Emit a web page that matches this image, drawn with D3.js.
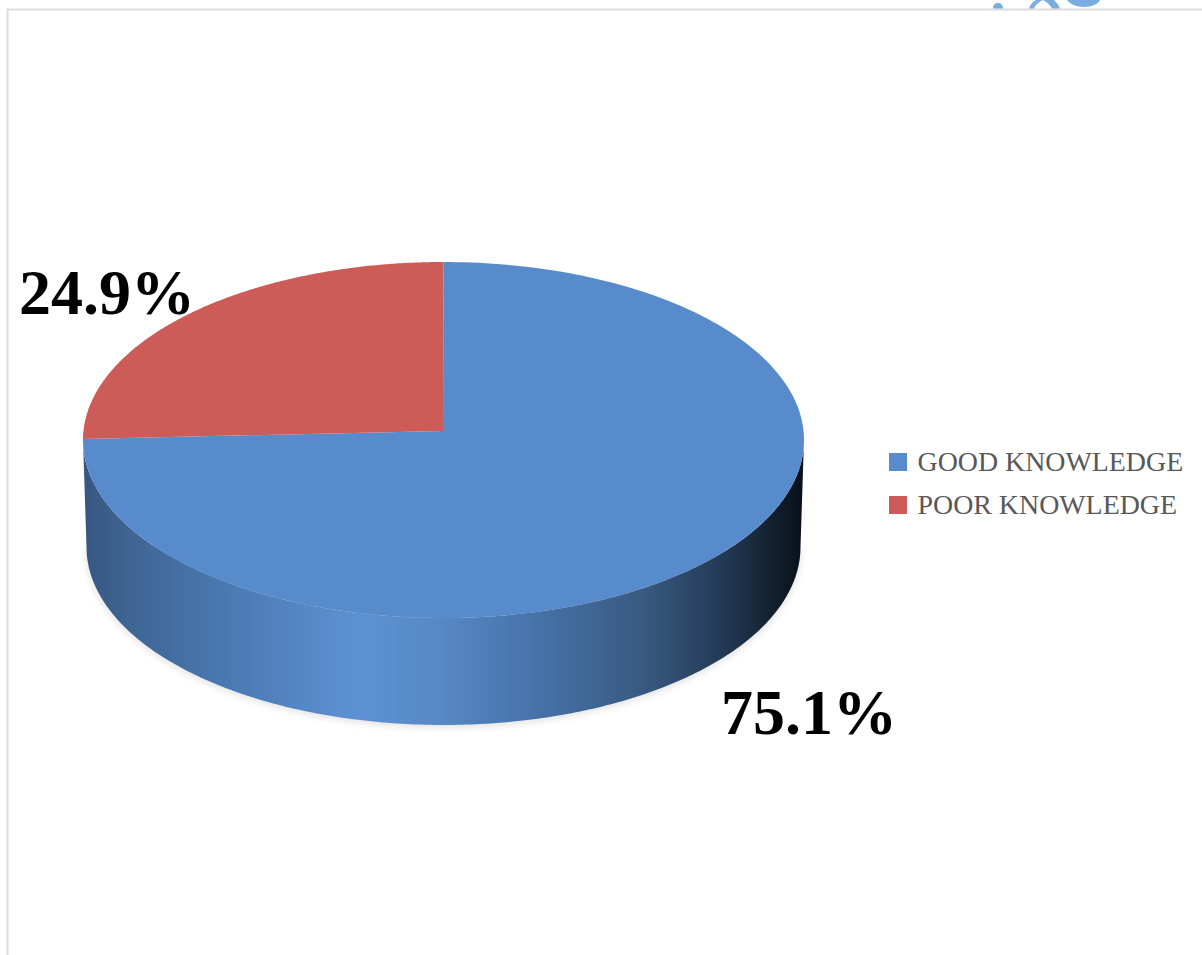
<!DOCTYPE html>
<html>
<head>
<meta charset="utf-8">
<script src="https://cdn.jsdelivr.net/npm/d3@7/dist/d3.min.js"></script>
<style>
html,body{margin:0;padding:0;background:#fff;overflow:hidden}
svg{display:block}
text{font-family:"Liberation Serif","Times New Roman",serif}
</style>
</head>
<body>
<svg id="chart" width="1202" height="955"></svg>
<script>
// Knowledge split shown as a tilted, extruded pie
const categories = ["GOOD KNOWLEDGE", "POOR KNOWLEDGE"];
const shares = [75.1, 24.9];
const shareLabels = ["75.1%", "24.9%"];
const sliceColors = ["#588bcb", "#cd5b58"];
const wallStops = [
  [0, "#36567f"], [0.06, "#3f6492"], [0.2, "#4a79b2"], [0.38, "#5e91d4"],
  [0.5, "#5688c5"], [0.62, "#4674aa"], [0.78, "#38597f"], [0.9, "#20364f"],
  [0.97, "#0e1b28"], [1, "#08111a"]
];

const svg = d3.select("#chart");
const W = 1202, H = 955;
const defs = svg.append("defs");

const topFace = {cx: 443.5, cy: 440, rx: 360.5, ry: 178};
const baseFace = {cx: 443.5, cy: 547, rx: 357, ry: 178};
const apex = [443, 431];

const color = d3.scaleOrdinal().domain(categories).range(sliceColors);
const pie = d3.pie().sort(null).value(d => d.value);
const slices = pie(categories.map((name, i) => ({name, value: shares[i], label: shareLabels[i]})));

// Position on a tilted rim, with the angle measured clockwise from twelve o'clock
const rim = (e, a) => [e.cx + e.rx * Math.sin(a), e.cy - e.ry * Math.cos(a)];
const line = d3.line();
const sweep = (e, a0, a1, n = 240) =>
  d3.range(n + 1).map(i => rim(e, a0 + (a1 - a0) * i / n));

// Chart frame
svg.append("rect").attr("width", W).attr("height", H).attr("fill", "#fff");
svg.append("path")
  .attr("d", `M7.5 ${H}V9.5H${W}`)
  .attr("fill", "none").attr("stroke", "#dcdcdc").attr("stroke-width", 2);

// Bits of a logo that sit above the frame, cut off by its top edge
const logo = svg.append("g").attr("fill", "#7aaee0");
logo.append("path").attr("d", "M993 8.5C993 5 995 3 998 3C1001 3 1003 5 1003 8.5Z");
logo.append("path").attr("d", "M1029 8.5C1030 5 1032 2 1036 0L1043 0C1039 2 1035 5 1034 8.5Z");
logo.append("path").attr("d", "M1043 0L1054 0C1056 2 1059 5 1060 8.5L1052 8.5C1050 5 1047 2 1043 0Z");
logo.append("path").attr("d", "M1067 0C1070 4 1076 7 1084 7C1092 7 1098 4 1100 0Z");

// Soft shadow under the base
const blur = defs.append("filter").attr("id", "soft")
  .attr("x", "-5%").attr("y", "-5%").attr("width", "110%").attr("height", "110%");
blur.append("feGaussianBlur").attr("stdDeviation", 4);

svg.append("path")
  .attr("d", line(sweep({...baseFace, cy: baseFace.cy + 2}, Math.PI / 2, Math.PI * 1.5)))
  .attr("fill", "#000").attr("opacity", 0.13).attr("filter", "url(#soft)");

// Outer wall, shaded left to right
const wallGrad = defs.append("linearGradient").attr("id", "wall")
  .attr("gradientUnits", "userSpaceOnUse")
  .attr("x1", topFace.cx - topFace.rx).attr("x2", topFace.cx + topFace.rx)
  .attr("y1", 0).attr("y2", 0);
wallGrad.selectAll("stop").data(wallStops).join("stop")
  .attr("offset", d => d[0]).attr("stop-color", d => d[1]);

const wallPts = sweep(topFace, Math.PI / 2, Math.PI * 1.5)
  .concat(sweep(baseFace, Math.PI * 1.5, Math.PI / 2));
svg.append("path").attr("d", line(wallPts) + "Z").attr("fill", "url(#wall)");

// Top face slices
svg.append("g").selectAll("path").data(slices).join("path")
  .attr("d", d => line([apex, ...sweep(topFace, d.startAngle, d.endAngle)]) + "Z")
  .attr("fill", d => color(d.data.name));

// Value labels
const valueLabels = svg.append("g")
  .attr("font-weight", "bold").attr("font-size", 64).attr("fill", "#000");
const labelAnchors = new Map([["GOOD KNOWLEDGE", [721, 734]], ["POOR KNOWLEDGE", [19, 314]]]);
valueLabels.selectAll("text").data(slices).join("text")
  .attr("x", d => labelAnchors.get(d.data.name)[0])
  .attr("y", d => labelAnchors.get(d.data.name)[1])
  .text(d => d.data.label);

// Legend
const legendY = d3.scalePoint().domain(categories).range([471, 514]);
const legend = svg.append("g").selectAll("g").data(categories).join("g")
  .attr("transform", d => `translate(889,${legendY(d)})`);
legend.append("rect").attr("x", 0).attr("y", -18).attr("width", 18).attr("height", 18)
  .attr("fill", d => color(d));
legend.append("text").attr("x", 28.5).attr("font-size", 27.9).attr("fill", "#595959").text(d => d);
</script>
</body>
</html>
